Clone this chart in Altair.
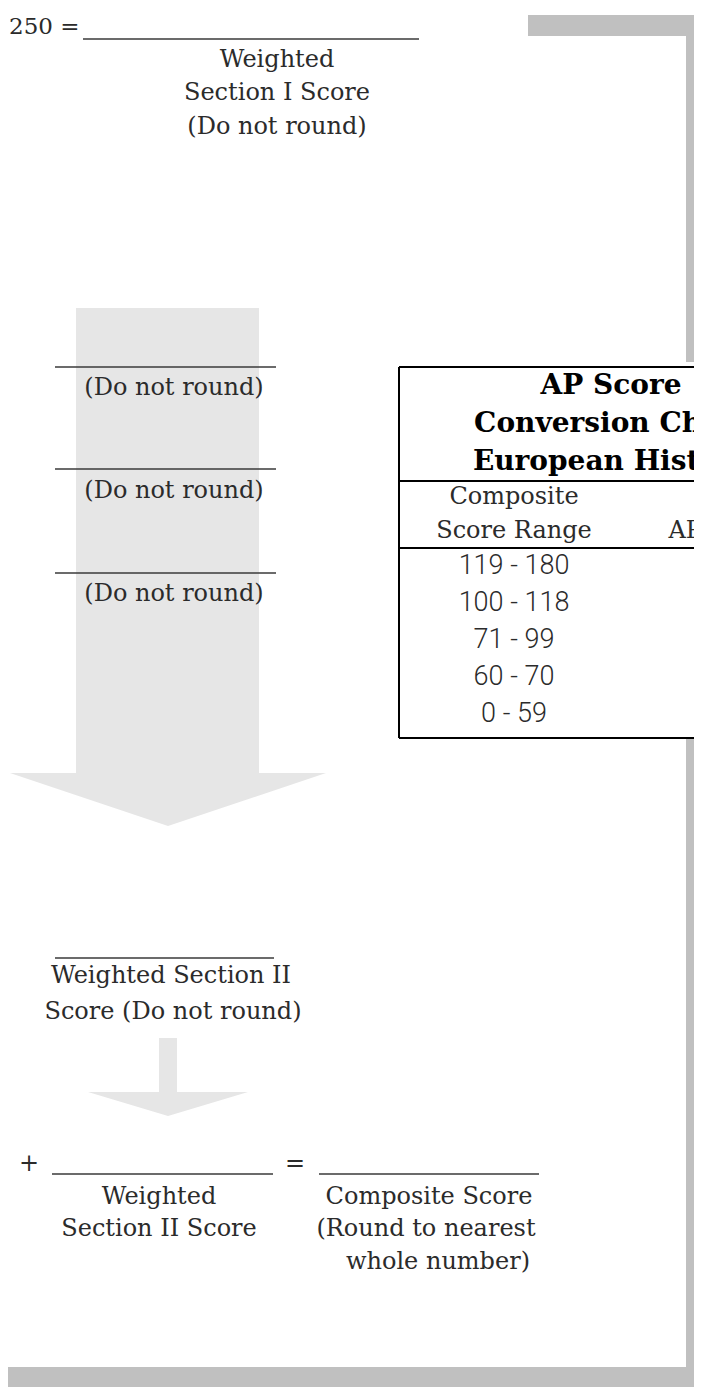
import altair as alt
import pandas as pd

# ---------------- content ----------------
section1_eq = ["250 ="]
section1_label = ["Weighted", "Section I Score", "(Do not round)"]
do_not_round = ["(Do not round)", "(Do not round)", "(Do not round)"]
section2_label = ["Weighted Section II", "Score (Do not round)"]
operators = ["+", "="]
weighted2_label = ["Weighted", "Section II Score"]
composite_label = ["Composite Score", "(Round to nearest", "whole number)"]
table_title = ["AP Score", "Conversion Chart", "European History"]
table_header = ["Composite", "Score Range", "AP Score"]
score_ranges = ["119 - 180", "100 - 118", "71 - 99", "60 - 70", "0 - 59"]
ap_scores = ["5", "4", "3", "2", "1"]

# ---------------- layout (page pixel coordinates) ----------------
FRAME = "#c0c0c0"
ARROW = "#e6e6e6"
LINE = "#3a3a3a"
TXT = "#2b2b2b"
SERIF = "DejaVu Serif"

# chart origin sits at page (8, 8); plot area fits the window exactly
X0, Y0 = 8, 8
W, H = 686, 1379
xs = alt.Scale(domain=[X0, X0 + W], nice=False, zero=False)
ys = alt.Scale(domain=[Y0, Y0 + H], nice=False, zero=False, reverse=True)

rect_x = [528, 686, 0, 76, 159, 399]
rect_x2 = [720, 720, 720, 259, 177, 760]
rect_y = [15, 15, 1367, 308, 1038, 362]
rect_y2 = [36, 1400, 1390, 774, 1093, 738]
rect_c = [FRAME, FRAME, FRAME, ARROW, ARROW, "white"]
rects = pd.DataFrame(dict(x=rect_x, x2=rect_x2, y=rect_y, y2=rect_y2, c=rect_c))

head_id = ["big"] * 3 + ["small"] * 3
head_x = [10, 168, 326, 88, 168, 248]
head_y = [773, 773, 773, 1092, 1092, 1092]
head_y2 = [773, 826, 773, 1092, 1116, 1092]
heads = pd.DataFrame(dict(g=head_id, x=head_x, y=head_y, y2=head_y2))

rule_x = [83, 55, 55, 55, 55, 52, 319, 399, 399, 399, 399, 399]
rule_x2 = [419, 276, 276, 276, 274, 273, 539, 760, 760, 760, 760, 399]
rule_y = [39, 367, 469, 573, 958, 1174, 1174, 367, 481, 548, 738, 367]
rule_y2 = [39, 367, 469, 573, 958, 1174, 1174, 367, 481, 548, 738, 738]
rule_c = [LINE] * 7 + ["black"] * 5
rule_w = [1.4] * 7 + [2] * 5
rules = pd.DataFrame(dict(x=rule_x, x2=rule_x2, y=rule_y, y2=rule_y2, c=rule_c, w=rule_w))

body_text = (section1_label + do_not_round + section2_label + operators
             + weighted2_label + composite_label + table_header)
body_x = [277, 277, 277, 174, 174, 174, 171, 173, 29, 295, 159, 159,
          429, 426, 438, 514, 514, 724]
body_y = [60, 93, 127, 388, 491, 594, 976, 1012, 1164, 1164, 1197, 1229,
          1197, 1229, 1262, 497, 531, 531]
body = pd.DataFrame(dict(t=body_text, x=body_x, y=body_y))

eq = pd.DataFrame(dict(t=section1_eq, x=[9], y=[27]))

title = pd.DataFrame(dict(t=table_title, x=[611] * 3, y=[386, 424, 462]))

nums = pd.DataFrame(dict(
    t=score_ranges + ap_scores,
    x=[514] * 5 + [724] * 5,
    y=[566, 603, 640, 677, 714] * 2,
))


def X(f="x"):
    return alt.X(f"{f}:Q", scale=xs, axis=None)


def Y(f="y"):
    return alt.Y(f"{f}:Q", scale=ys, axis=None)


boxes = alt.Chart(rects).mark_rect(clip=True).encode(
    x=X(), x2="x2:Q", y=Y(), y2="y2:Q",
    color=alt.Color("c:N", scale=None),
)

arrow_heads = alt.Chart(heads).mark_area(color=ARROW, clip=True).encode(
    x=X(), y=Y(), y2="y2:Q", detail="g:N",
)

lines = alt.Chart(rules).mark_rule(clip=True).encode(
    x=X(), x2="x2:Q", y=Y(), y2="y2:Q",
    color=alt.Color("c:N", scale=None),
    strokeWidth=alt.StrokeWidth("w:Q", scale=None),
)

body_layer = alt.Chart(body).mark_text(
    font=SERIF, fontSize=24, color=TXT, align="center", baseline="middle", clip=True
).encode(x=X(), y=Y(), text="t:N")

eq_layer = alt.Chart(eq).mark_text(
    font=SERIF, fontSize=23, color=TXT, align="left", baseline="middle", clip=True
).encode(x=X(), y=Y(), text="t:N")

title_layer = alt.Chart(title).mark_text(
    font=SERIF, fontSize=28, fontWeight="bold", color="black", align="center",
    baseline="middle", clip=True
).encode(x=X(), y=Y(), text="t:N")

num_layer = alt.Chart(nums).mark_text(
    font="Roboto", fontSize=27, fontWeight=300, color=TXT, align="center",
    baseline="middle", clip=True
).encode(x=X(), y=Y(), text="t:N")

chart = alt.layer(
    boxes, arrow_heads, lines, body_layer, eq_layer, title_layer, num_layer
).properties(
    width=W, height=H, autosize=alt.AutoSizeParams(type="none"), padding=0,
    background="white",
).configure_view(strokeWidth=0)

chart.save("out.html", embed_options={"renderer": "svg", "actions": False})
